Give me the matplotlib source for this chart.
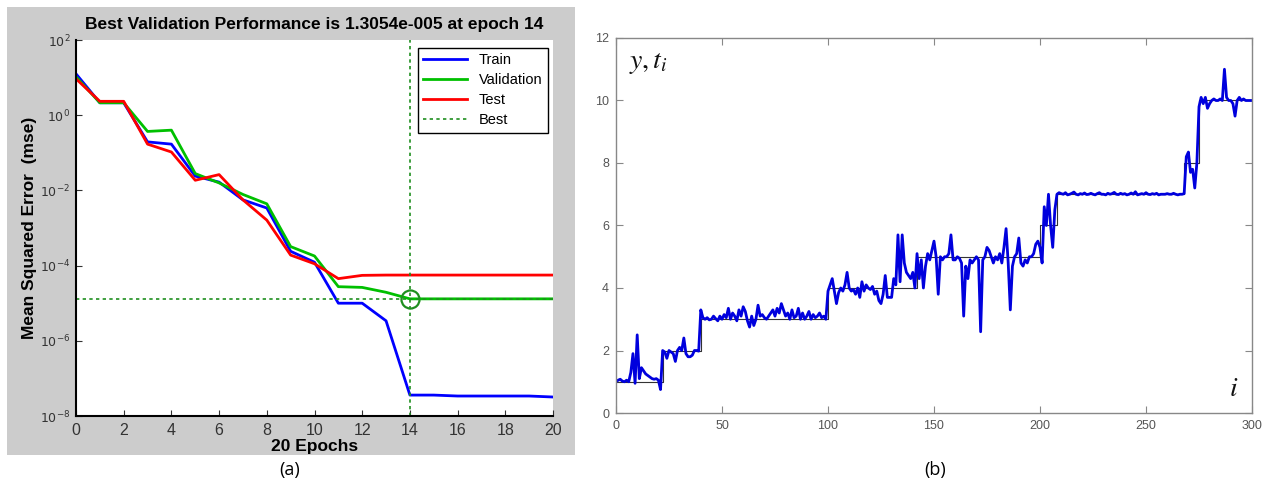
import matplotlib
matplotlib.use("Agg")
import matplotlib.pyplot as plt
from matplotlib.patches import Rectangle

# ---------------- data: panel (a) ----------------
epochs = list(range(21))
train_mse = [12.6, 2.14, 2.14, 0.195, 0.17, 0.024, 0.0166, 0.0056, 0.0034, 2.4e-4, 1.23e-4,
             1.0e-5, 1.0e-5, 3.4e-6, 3.6e-8, 3.6e-8, 3.4e-8, 3.4e-8, 3.4e-8, 3.4e-8, 3.2e-8]
val_mse = [10.5, 2.14, 2.14, 0.37, 0.40, 0.028, 0.0158, 0.0078, 0.0044, 3.2e-4, 1.8e-4,
           2.75e-5, 2.63e-5, 1.95e-5, 1.3054e-5, 1.3054e-5, 1.3054e-5, 1.3054e-5, 1.3054e-5,
           1.3054e-5, 1.3054e-5]
test_mse = [9.3, 2.34, 2.34, 0.17, 0.105, 0.0186, 0.0263, 0.0056, 0.00162, 1.9e-4, 1.12e-4,
            4.5e-5, 5.5e-5, 5.6e-5, 5.6e-5, 5.6e-5, 5.6e-5, 5.6e-5, 5.6e-5, 5.6e-5, 5.6e-5]
best_epoch = 14
best_val = 1.3054e-5
legend_labels = ["Train", "Validation", "Test", "Best"]
xticks_a = list(range(0, 21, 2))
yticks_a = [1e-8, 1e-6, 1e-4, 1e-2, 1e0, 1e2]

# ---------------- data: panel (b) ----------------
target_starts = [0, 22, 40, 100, 142, 200, 208, 268, 275, 300]
target_levels = [1, 2, 3, 4, 5, 6, 7, 8, 10, 10]
y_out = [
    1.00, 1.05, 1.08, 1.02, 1.00, 1.05, 1.00, 1.30, 1.90, 0.95,
    2.50, 1.10, 1.45, 1.35, 1.25, 1.20, 1.15, 1.10, 1.08, 1.10,
    1.05, 0.75, 2.00, 1.95, 1.75, 2.00, 1.95, 1.90, 1.65, 2.00,
    2.10, 2.00, 2.40, 1.90, 1.80, 1.80, 1.85, 2.00, 2.00, 1.98,
    3.30, 3.05, 3.00, 3.05, 2.98, 3.00, 3.10, 3.02, 2.95, 3.10,
    3.00, 3.15, 3.05, 3.35, 3.00, 3.20, 3.10, 2.95, 3.30, 3.10,
    3.40, 3.25, 2.95, 2.75, 3.10, 2.80, 3.00, 3.45, 3.10, 3.15,
    3.05, 3.00, 3.10, 3.20, 3.30, 3.10, 3.35, 3.20, 3.50, 3.30,
    3.10, 3.20, 3.00, 3.30, 3.05, 3.10, 3.35, 3.00, 3.20, 3.00,
    3.10, 3.25, 3.00, 3.15, 3.05, 3.10, 3.20, 3.05, 3.10, 3.00,
    3.90, 4.10, 4.30, 3.90, 3.50, 3.85, 4.00, 3.90, 4.10, 4.50,
    4.00, 3.90, 3.95, 3.80, 4.00, 3.70, 4.20, 3.90, 4.10, 4.00,
    3.95, 4.05, 3.80, 3.90, 3.60, 3.50, 3.80, 4.40, 3.70, 3.70,
    3.70, 4.30, 4.10, 5.70, 4.20, 5.70, 4.80, 4.50, 4.40, 4.30,
    4.50, 4.00, 5.10, 4.30, 4.90, 4.00, 4.70, 5.10, 4.90, 5.20,
    5.50, 5.00, 3.80, 5.00, 4.90, 5.00, 5.00, 5.10, 5.70, 4.90,
    4.90, 5.00, 4.95, 4.80, 3.10, 4.70, 4.30, 4.90, 4.80, 4.90,
    5.00, 4.90, 2.60, 4.90, 5.00, 5.30, 5.20, 5.00, 4.80, 5.00,
    4.90, 5.10, 4.80, 5.30, 5.90, 4.80, 3.30, 4.70, 5.00, 5.10,
    5.60, 4.80, 4.70, 4.90, 4.80, 5.00, 5.00, 5.10, 5.40, 5.50,
    5.30, 4.80, 6.60, 6.00, 7.00, 6.00, 5.30, 6.50, 7.00, 7.05,
    7.02, 7.00, 7.05, 6.98, 7.00, 7.03, 7.07, 7.00, 6.98, 7.02,
    7.00, 7.04, 6.99, 7.00, 7.03, 7.00, 6.98, 7.02, 7.05, 7.00,
    7.00, 6.98, 7.03, 7.00, 7.02, 7.06, 7.00, 6.99, 7.03, 7.00,
    7.02, 6.98, 7.00, 7.04, 7.00, 7.08, 6.98, 7.00, 7.02, 7.00,
    7.05, 7.00, 6.99, 7.02, 7.00, 7.03, 6.98, 7.00, 7.00, 7.00,
    7.02, 7.00, 7.00, 7.03, 7.00, 6.98, 7.00, 7.00, 7.02, 8.20,
    8.35, 7.70, 7.80, 7.20, 8.00, 9.80, 10.10, 9.90, 10.10, 9.75,
    9.90, 10.00, 10.05, 10.00, 10.00, 10.05, 10.00, 11.00, 10.10, 10.00,
    10.00, 9.90, 9.50, 10.00, 10.10, 10.00, 10.05, 10.00, 10.00, 10.00,
    10.00,
]
i_idx = list(range(len(y_out)))
xticks_b = [0, 50, 100, 150, 200, 250, 300]
yticks_b = [0, 2, 4, 6, 8, 10, 12]

# ---------------- figure ----------------
W, H = 1279, 496
plt.rcParams["mathtext.fontset"] = "dejavusans"
fig = plt.figure(figsize=(W / 100, H / 100), dpi=100)
fig.patch.set_facecolor("white")

# gray MATLAB-style panel (drawn behind the axes)
fig.patches.append(Rectangle((7 / W, 1 - 455 / H), 568 / W, 448 / H,
                             transform=fig.transFigure, facecolor="#cccccc",
                             edgecolor="none", zorder=-10))

sans = ["Liberation Sans", "DejaVu Sans"]

# ---- panel (a) ----
axa = fig.add_axes([76 / W, 1 - 416 / H, 477 / W, 376 / H])
axa.set_zorder(2)
axa.set_facecolor("white")
axa.plot(epochs, train_mse, color="#0000ff", lw=2, label=legend_labels[0])
axa.plot(epochs, val_mse, color="#00c000", lw=2, label=legend_labels[1])
axa.plot(epochs, test_mse, color="#ff0000", lw=2, label=legend_labels[2])
axa.axvline(best_epoch, color="#1f8f1f", ls=(0, (2, 2)), lw=1.2, label=legend_labels[3])
axa.axhline(best_val, color="#1f8f1f", ls=(0, (2, 2)), lw=1.2)
axa.plot([best_epoch], [best_val], marker="o", ms=13, mfc="none", mec="#1f8f1f", mew=1.6)
axa.set_yscale("log")
axa.set_xlim(0, 20)
axa.set_ylim(1e-8, 1e2)
axa.set_xticks(xticks_a)
axa.set_yticks(yticks_a)
axa.set_yticklabels([r"$10^{-8}$", r"$10^{-6}$", r"$10^{-4}$", r"$10^{-2}$", r"$10^{0}$", r"$10^{2}$"])
axa.minorticks_off()
axa.tick_params(axis="x", direction="in", length=4, labelsize=11.5, colors="#333333", pad=5)
axa.tick_params(axis="y", direction="in", length=4, labelsize=9, colors="#333333", pad=4)
for lab in axa.get_xticklabels():
    lab.set_family(sans)
axa.spines["top"].set_visible(False)
axa.spines["right"].set_visible(False)
axa.spines["left"].set_linewidth(1.5)
axa.spines["bottom"].set_linewidth(1.5)
axa.set_title("Best Validation Performance is 1.3054e-005 at epoch 14",
              fontsize=12.5, fontweight="bold", family=sans, pad=8)
axa.set_xlabel("20 Epochs", fontsize=12.5, fontweight="bold", family=sans, labelpad=1)
axa.set_ylabel("Mean Squared Error  (mse)", fontsize=12.5, fontweight="bold", family=sans, labelpad=2)
leg = axa.legend(loc="upper right", bbox_to_anchor=(0.99, 0.98), borderaxespad=0,
                 fancybox=False, framealpha=1, edgecolor="black", handlelength=3.0,
                 prop={"family": sans, "size": 10.5}, labelspacing=0.4)
leg.get_frame().set_linewidth(1.0)

# ---- panel (b) ----
axb = fig.add_axes([616 / W, 1 - 413 / H, 636 / W, 375 / H])
axb.step(target_starts, target_levels, where="post", color="#333333", lw=0.8)
axb.plot(i_idx, y_out, color="#0000dd", lw=2.0)
axb.set_xlim(0, 300)
axb.set_ylim(0, 12)
axb.set_xticks(xticks_b)
axb.set_yticks(yticks_b)
axb.tick_params(direction="in", length=5, labelsize=9, colors="#555555",
                top=True, right=True, labeltop=False, labelright=False, pad=5, color="#888888")
for sp in axb.spines.values():
    sp.set_color("#888888")
    sp.set_linewidth(1.0)
for lab in axb.get_xticklabels() + axb.get_yticklabels():
    lab.set_family(sans)
axb.text(6, 11.05, r"$y, t_i$", fontsize=20, color="#111111", math_fontfamily="stix")
axb.text(289, 0.55, r"$i$", fontsize=20, color="#111111", math_fontfamily="stix")

# captions
fig.text(290 / W, 1 - 470 / H, "(a)", ha="center", va="center", fontsize=13, family=["Open Sans", "DejaVu Sans"])
fig.text(935 / W, 1 - 470 / H, "(b)", ha="center", va="center", fontsize=13, family=["Open Sans", "DejaVu Sans"])

fig.savefig("out.png", dpi=100)
